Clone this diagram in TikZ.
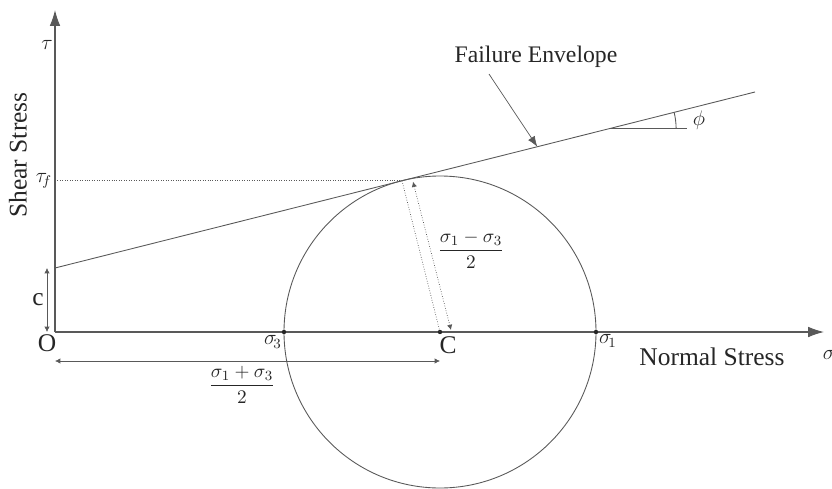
\documentclass[tikz,border=0pt]{standalone}
\usepackage{amsmath}
\usepackage{fontspec}
\setmainfont{Liberation Serif}
\usetikzlibrary{positioning, arrows.meta, calc}
\colorlet{ink}{black!65}
\colorlet{txt}{black!85}
\tikzset{
  axis/.style     ={-{Latex[length=9pt, width=6pt]}, ink, line width=0.6pt},
  curve/.style    ={ink, line width=0.5pt},
  dimline/.style  ={{Latex[length=3pt, width=3pt]}-{Latex[length=3pt, width=3pt]},
                    ink, line width=0.4pt},
  guide/.style    ={ink, densely dotted, line width=0.4pt},
  pointer/.style  ={-{Latex[length=6pt, width=4.5pt]}, ink, line width=0.4pt},
  word/.style     ={font=\fontsize{14.5}{17}\selectfont, text=txt, inner sep=0pt},
  sym/.style      ={font=\fontsize{12}{14}\selectfont, text=txt, inner sep=0pt},
  frac/.style     ={font=\fontsize{11}{13}\selectfont, text=txt, inner sep=0pt},
  dot/.style      ={circle, fill=txt, inner sep=0pt, minimum size=2.5pt},
}
\newcommand{\fangle}{14.1}

\begin{document}
\begin{tikzpicture}[x=0.02cm, y=0.02cm]
\useasboundingbox (0,0) rectangle (832,488);

% Axes
\coordinate (O) at (55,156);
\coordinate (ytop) at (55,478);
\coordinate (xend) at (824,156);
\draw[axis] (O) -- (ytop);
\draw[axis] (O) -- (xend);
\node[word] (O-lbl) at (47,145) {O};
\node[sym] (tau) at (47,443) {$\tau$};
\node[word, rotate=90] (ylbl) at (18,333) {Shear Stress};
\node[word] (xlbl) at (712,131) {Normal Stress};
\node[sym] (sig) at (829,133) {$\sigma$};

% Mohr circle
\coordinate (C) at (440,156);
\coordinate (S3) at (284,156);
\coordinate (S1) at (596,156);
\draw[curve] (C) circle (156);
\node[dot] (C-dot) at (C) {};
\node[dot] (S3-dot) at (S3) {};
\node[dot] (S1-dot) at (S1) {};
\node[word] (C-lbl) at (448,143) {C};
\node[sym] (S3-lbl) at (273,146) {$\sigma_{\!3}$};
\node[sym] (S1-lbl) at (608,147) {$\sigma_{\!1}$};

% Failure envelope, tangent to the circle
\coordinate (E0) at (55,220);
\coordinate (E1) at (755,396);
\coordinate (T) at ($(C)+(90+\fangle:156)$);
\draw[curve] (E0) -- (E1)
  coordinate[pos=0.689] (Ehit)
  coordinate[pos=0.793] (Ephi);
\node[word, font=\fontsize{13.5}{16}\selectfont] (env) at (536,431) {Failure Envelope};
\coordinate (env-tail) at (489,414);
\draw[pointer] (env-tail) -- (Ehit);

% Friction angle
\coordinate (phi-end) at (687,0 |- Ephi);
\draw[curve] (Ephi) -- (phi-end);
\draw[curve] ($(Ephi)+(66,0)$) arc[start angle=0, end angle=\fangle, radius=66];
\node[sym] (phi) at (699,368) {$\phi$};

% Shear strength level
\coordinate (tauf-y) at (O |- T);
\draw[guide] (tauf-y) -- (T);
\node[sym] (tauf) at (44,307) {$\tau_{\!f}$};

% Cohesion
\coordinate (c-lo) at (47,156);
\coordinate (c-hi) at (47,220);
\draw[dimline] (c-lo) -- (c-hi);
\node[word] (c-lbl) at (38,188) {c};

% Centre distance
\coordinate (d-lo) at (55,127);
\coordinate (d-hi) at (440,127);
\draw[dimline] (d-lo) -- (d-hi);
\node[frac] (d-lbl) at (242,103) {$\dfrac{\sigma_1+\sigma_3}{2}$};

% Radius
\draw[guide] (T) -- (C);
\coordinate (r-hi) at ($(T)+(11,-1)$);
\coordinate (r-lo) at ($(C)+(11,2)$);
\draw[dimline, densely dotted] (r-hi) -- (r-lo);
\node[frac] (r-lbl) at (471,238) {$\dfrac{\sigma_1-\sigma_3}{2}$};

\end{tikzpicture}
\end{document}
